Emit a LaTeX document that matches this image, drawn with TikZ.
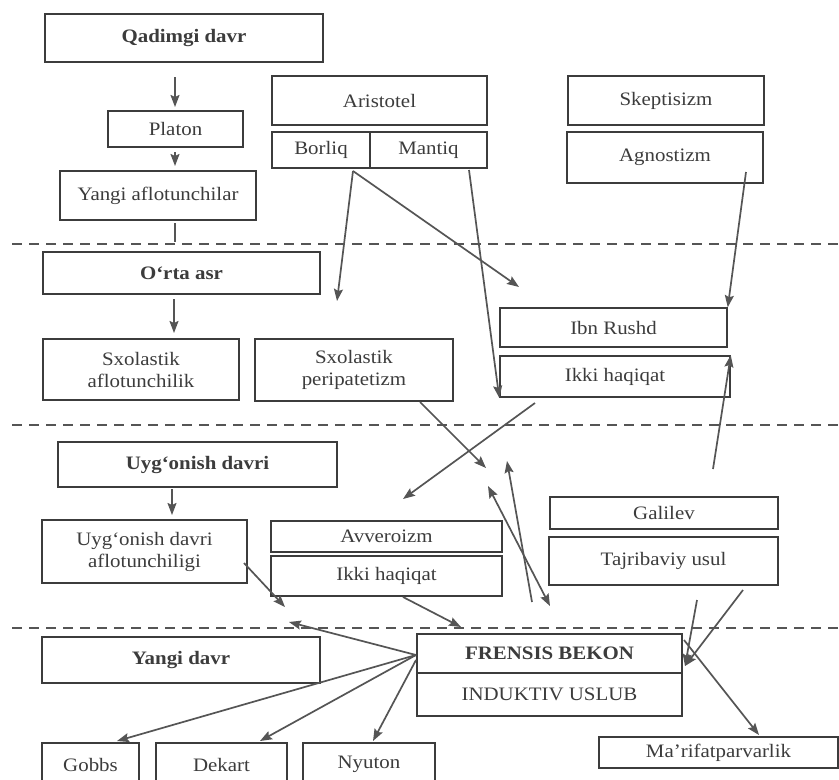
\documentclass[tikz,border=0pt]{standalone}
\usepackage{fontspec}
\setmainfont{Liberation Serif}[FakeStretch=1.1]
\usetikzlibrary{arrows.meta}
\definecolor{ink}{HTML}{3C3C3C}
\definecolor{lin}{HTML}{555555}
\begin{document}
\begin{tikzpicture}[x=1pt,y=-1pt,
 box/.style={draw=ink, line width=1.5pt, rectangle, inner sep=2pt, text=ink, font=\fontsize{19}{22}\selectfont, align=center},
 bbox/.style={box, font=\fontsize{19}{22}\selectfont\bfseries},
 arr/.style={draw=lin, line width=1.7pt, -{Stealth[length=12pt,width=9pt,inset=2pt]}},
 darr/.style={draw=lin, line width=1.7pt, {Stealth[length=12pt,width=9pt,inset=2pt]}-{Stealth[length=12pt,width=9pt,inset=2pt]}},
 ln/.style={draw=lin, line width=1.7pt},
 sep/.style={draw=lin, line width=1.6pt, dash pattern=on 10pt off 7pt}]
\useasboundingbox[fill=white] (0,0) rectangle (839,780);
\clip (0,0) rectangle (839,780);

% separators
\coordinate (s1a) at (12,244); \coordinate (s1b) at (839,244);
\coordinate (s2a) at (12,425); \coordinate (s2b) at (839,425);
\coordinate (s3a) at (12,628); \coordinate (s3b) at (839,628);
\draw[sep] (s1a) -- (s1b);
\draw[sep] (s2a) -- (s2b);
\draw[sep] (s3a) -- (s3b);

% nodes
\node[bbox, minimum width=278, minimum height=48] (qad) at (184,38) {Qadimgi davr};
\node[box, minimum width=215, minimum height=49] (arist) at (379.5,100.5) {Aristotel};
\node[box, minimum width=98, minimum height=36] (borliq) at (321,150) {Borliq};
\node[box, minimum width=117, minimum height=36] (mantiq) at (428.5,150) {Mantiq};
\node[box, minimum width=196, minimum height=49] (skept) at (666,100.5) {Skeptisizm};
\node[box, minimum width=196, minimum height=51] (agnost) at (665,157.5) {Agnostizm};
\node[box, minimum width=135, minimum height=36] (platon) at (175.5,129) {Platon};
\node[box, minimum width=196, minimum height=49] (yafl) at (158,195.5) {Yangi aflotunchilar};

\node[bbox, minimum width=277, minimum height=42] (orta) at (181.5,273) {O‘rta asr};
\node[box, minimum width=196, minimum height=61] (sxafl) at (141,369.5) {Sxolastik\\aflotunchilik};
\node[box, minimum width=198, minimum height=62] (sxper) at (354,370) {Sxolastik\\peripatetizm};
\node[box, minimum width=227, minimum height=39] (ibn) at (613.5,327.5) {Ibn Rushd};
\node[box, minimum width=230, minimum height=41] (ikki1) at (615,376.5) {Ikki haqiqat};

\node[bbox, minimum width=279, minimum height=45] (uyg) at (197.5,464.5) {Uyg‘onish davri};
\node[box, minimum width=205, minimum height=63] (uygafl) at (144.5,551.5) {Uyg‘onish davri\\aflotunchiligi};
\node[box, minimum width=231, minimum height=31] (avv) at (386.5,536.5) {Avveroizm};
\node[box, minimum width=231, minimum height=40] (ikki2) at (386.5,576) {Ikki haqiqat};
\node[box, minimum width=228, minimum height=32] (galilev) at (664,513) {Galilev};
\node[box, minimum width=229, minimum height=48] (tajr) at (663.5,561) {Tajribaviy usul};

\node[bbox, minimum width=265, minimum height=39] (frensis) at (549.5,653.5) {FRENSIS BEKON};
\node[box, minimum width=265, minimum height=43] (induk) at (549.5,694.5) {INDUKTIV USLUB};
\node[bbox, minimum width=278, minimum height=46] (ydavr) at (181,660) {Yangi davr};
\node[box, minimum width=97, minimum height=43] (gobbs) at (90.5,764.5) {Gobbs};
\node[box, minimum width=131, minimum height=43] (dekart) at (221.5,764.5) {Dekart};
\node[box, minimum width=132, minimum height=43] (nyuton) at (369,764.5) {Nyuton};
\node[box, minimum width=239, minimum height=31] (marif) at (718.5,752.5) {Ma’rifatparvarlik};

% port / free-end coordinates
\coordinate (p1) at (175,77);
\coordinate (p1e) at (175,107);
\coordinate (p2) at (175,152);
\coordinate (p2e) at (175,166);
\coordinate (p3) at (175,223);
\coordinate (p3e) at (175,242);
\coordinate (p4) at (174,299);
\coordinate (p4e) at (174,333);
\coordinate (bq) at (353,171);
\coordinate (bqa) at (337,301);
\coordinate (bqb) at (519,287);
\coordinate (mq) at (469,170);
\coordinate (ag) at (746,172);
\coordinate (gl) at (713,469);
\coordinate (sp) at (420,402);
\coordinate (spe) at (486,468);
\coordinate (ik) at (535,403);
\coordinate (ike) at (403,499);
\coordinate (q1) at (532,602);
\coordinate (q1e) at (507,461);
\coordinate (q2a) at (488,486);
\coordinate (q2b) at (550,606);
\coordinate (p5) at (172,489);
\coordinate (p5e) at (172,515);
\coordinate (ua) at (244,563);
\coordinate (uae) at (285,607);
\coordinate (i2) at (403,597);
\coordinate (i2e) at (461,627);
\coordinate (fw) at (416,655);
\coordinate (fwe) at (289,622);
\coordinate (gbe) at (117,741);
\coordinate (dke) at (260,741);
\coordinate (fn) at (416,660);
\coordinate (nye) at (373,741);
\coordinate (t1) at (697,600);
\coordinate (t2) at (743,590);
\coordinate (fe) at (685,666);
\coordinate (fm) at (684,640);
\coordinate (mre) at (759,735);

% connectors
\draw[arr] (p1) -- (p1e);
\draw[arr] (p2) -- (p2e);
\draw[ln] (p3) -- (p3e);
\draw[arr] (p4) -- (p4e);
\draw[arr] (bq) -- (bqa);
\draw[arr] (bq) -- (bqb);
\draw[arr] (mq) -- (ikki1.south west);
\draw[arr] (ag) -- (ibn.north east);
\draw[arr] (gl) -- (ikki1.north east);
\draw[arr] (sp) -- (spe);
\draw[arr] (ik) -- (ike);
\draw[arr] (q1) -- (q1e);
\draw[darr] (q2a) -- (q2b);
\draw[arr] (p5) -- (p5e);
\draw[arr] (ua) -- (uae);
\draw[arr] (i2) -- (i2e);
\draw[arr] (fw) -- (fwe);
\draw[arr] (fw) -- (gbe);
\draw[arr] (fw) -- (dke);
\draw[arr] (fn) -- (nye);
\draw[arr] (t1) -- (fe);
\draw[arr] (t2) -- (fe);
\draw[arr] (fm) -- (mre);
\end{tikzpicture}
\end{document}
